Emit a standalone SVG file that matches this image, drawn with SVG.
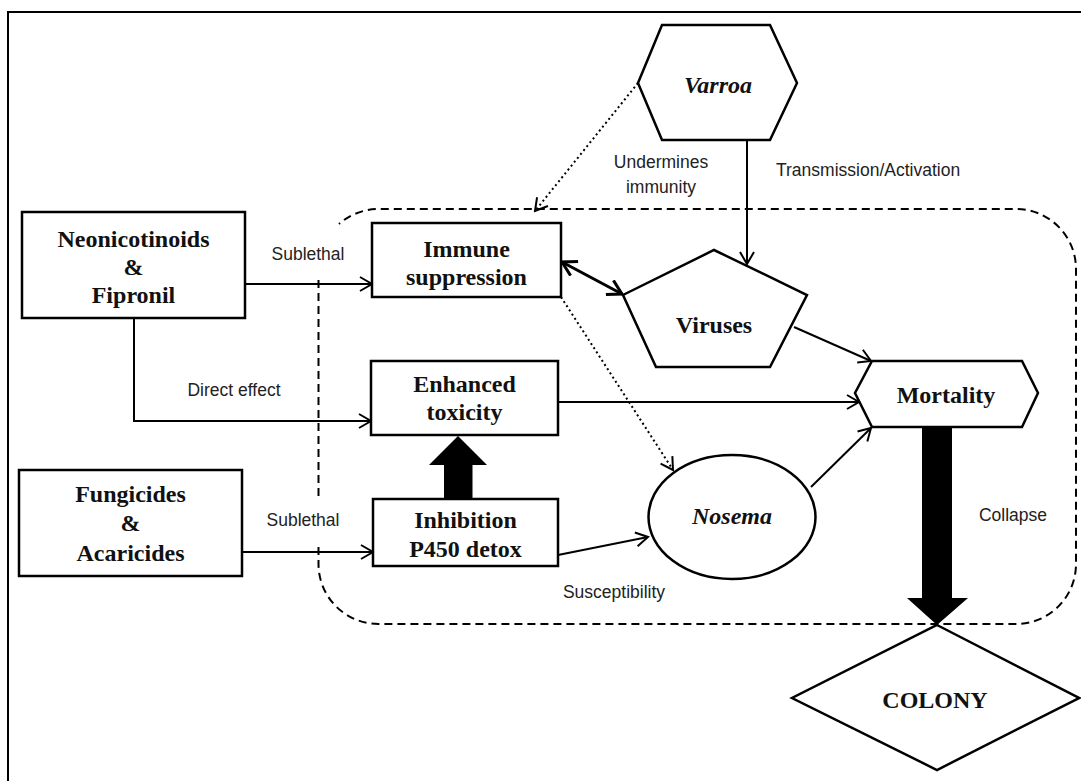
<svg xmlns="http://www.w3.org/2000/svg" width="1081" height="781" viewBox="0 0 1081 781">
<style>
.bx{fill:#fff;stroke:#000;stroke-width:2.5}
.nl{font-family:"Liberation Serif","Times New Roman",serif;font-weight:bold;font-size:24px;fill:#111;text-anchor:middle}
.it{font-style:italic}
.lb{font-family:"Liberation Sans",Arial,sans-serif;font-size:17.5px;fill:#222}
.ln{fill:none;stroke:#000;stroke-width:2}
.dot{fill:none;stroke:#000;stroke-width:2;stroke-dasharray:2,3}
.dash{fill:none;stroke:#000;stroke-width:2;stroke-dasharray:8,5}
</style>
<defs>
<marker id="arr" viewBox="0 0 16 16" refX="14" refY="8" markerWidth="16" markerHeight="16" markerUnits="userSpaceOnUse" orient="auto-start-reverse">
<path d="M2,1 L14,8 L2,15" fill="none" stroke="#000" stroke-width="2"/>
</marker>
<marker id="arrT" viewBox="0 0 18 18" refX="16" refY="9" markerWidth="18" markerHeight="18" markerUnits="userSpaceOnUse" orient="auto-start-reverse">
<path d="M2,1 L16,9 L2,17" fill="none" stroke="#000" stroke-width="3"/>
</marker>
</defs>
<rect width="1081" height="781" fill="#fff"/>
<path d="M8,781 V12 H1081" fill="none" stroke="#000" stroke-width="2"/>

<g id="boundary">
<path class="dash" d="M318.5,280 V497"/>
<path class="dash" d="M318.5,547 V564 A60,60 0 0 0 378.5,624 H1016 A60,60 0 0 0 1076,564 V269 A60,60 0 0 0 1016,209 H378.5 A60,60 0 0 0 339,224"/>
</g>

<g id="connectors">
<path class="ln" d="M245,284 H372" marker-end="url(#arr)"/>
<path class="ln" d="M134,318 V421 H371" marker-end="url(#arr)"/>
<path class="ln" d="M242,552 H373" marker-end="url(#arr)"/>
<path class="ln" d="M747,140 V264" marker-end="url(#arr)"/>
<path class="dot" d="M638,83 L535,211" marker-end="url(#arr)"/>
<path fill="none" stroke="#000" stroke-width="3" d="M562,262 L622,294" marker-start="url(#arrT)" marker-end="url(#arrT)"/>
<path class="ln" d="M794,327 L871,361" marker-end="url(#arr)"/>
<path class="ln" d="M558,402 L859,402" marker-end="url(#arr)"/>
<path class="dot" d="M561,297 L673,470" marker-end="url(#arr)"/>
<path class="ln" d="M558,555 L648,537" marker-end="url(#arr)"/>
<path class="ln" d="M811,487 L871,428" marker-end="url(#arr)"/>
<polygon points="444,499 444,465 429,465 458,436 487,465 472.5,465 472.5,499" fill="#000"/>
<polygon points="922,427 952,427 952,598 968,598 937,625 907,598 922,598" fill="#000"/>
</g>

<g id="labels">
<text class="lb" x="308" y="260" text-anchor="middle">Sublethal</text>
<text class="lb" x="661" y="168" text-anchor="middle">Undermines</text>
<text class="lb" x="661" y="193" text-anchor="middle">immunity</text>
<text class="lb" x="776" y="176">Transmission/Activation</text>
<text class="lb" x="234" y="396" text-anchor="middle">Direct effect</text>
<text class="lb" x="303" y="526" text-anchor="middle">Sublethal</text>
<text class="lb" x="614" y="598" text-anchor="middle">Susceptibility</text>
<text class="lb" x="1013" y="521" text-anchor="middle">Collapse</text>
</g>

<g id="neonicotinoids">
<rect class="bx" x="22" y="212" width="223" height="106"/>
<text class="nl" x="133.5" y="247">Neonicotinoids</text>
<text class="nl" x="133.5" y="275">&amp;</text>
<text class="nl" x="133.5" y="303">Fipronil</text>
</g>

<g id="fungicides">
<rect class="bx" x="19" y="470" width="223" height="106"/>
<text class="nl" x="130.5" y="502">Fungicides</text>
<text class="nl" x="130.5" y="531">&amp;</text>
<text class="nl" x="130.5" y="561">Acaricides</text>
</g>

<g id="immune">
<rect class="bx" x="372" y="223" width="189" height="74"/>
<text class="nl" x="466.5" y="257">Immune</text>
<text class="nl" x="466.5" y="285">suppression</text>
</g>

<g id="enhanced">
<rect class="bx" x="371" y="361" width="187" height="74"/>
<text class="nl" x="464.5" y="392">Enhanced</text>
<text class="nl" x="464.5" y="420">toxicity</text>
</g>

<g id="inhibition">
<rect class="bx" x="373" y="499" width="185" height="67"/>
<text class="nl" x="465.5" y="528">Inhibition</text>
<text class="nl" x="465.5" y="557">P450 detox</text>
</g>

<g id="varroa">
<polygon class="bx" points="662,25 770,25 797,83 770,140 662,140 638,83"/>
<text class="nl it" x="718" y="93">Varroa</text>
</g>

<g id="viruses">
<polygon class="bx" points="714,250 807,295 770,367 656,367 623,295"/>
<text class="nl" x="714" y="333">Viruses</text>
</g>

<g id="mortality">
<polygon class="bx" points="872,361 1022,361 1038,393 1022,427 872,427 855,393"/>
<text class="nl" x="946" y="403">Mortality</text>
</g>

<g id="nosema">
<ellipse class="bx" cx="732" cy="517" rx="83.5" ry="62"/>
<text class="nl it" x="732" y="524">Nosema</text>
</g>

<g id="colony">
<polygon class="bx" points="937,625 1079,698 937,770 792,698"/>
<text class="nl" x="935" y="708">COLONY</text>
</g>
</svg>
